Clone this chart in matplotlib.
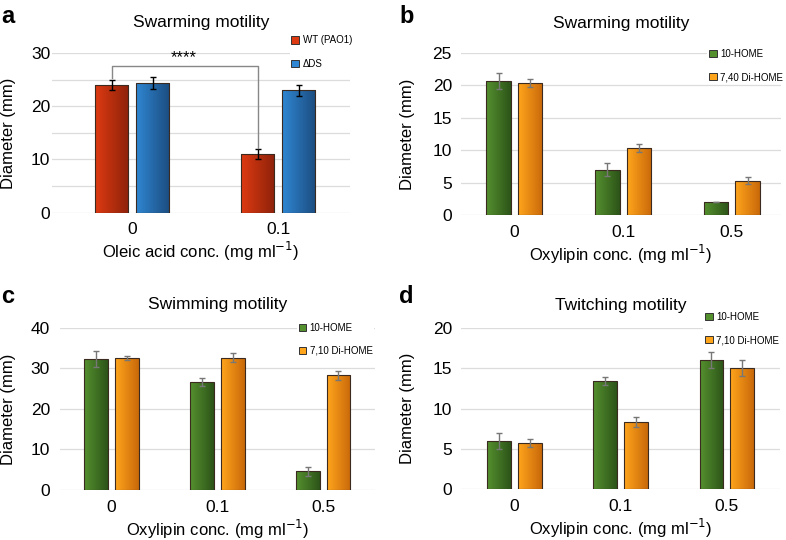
import numpy as np
import matplotlib
matplotlib.use("Agg")
import matplotlib.pyplot as plt
from matplotlib.colors import LinearSegmentedColormap
from matplotlib.patches import Patch

plt.rcParams['font.family'] = ['Liberation Sans', 'DejaVu Sans']

# ---- data ----
cats_a = ["0", "0.1"]
wt_a = [24.0, 11.0]
wt_a_err = [1.0, 1.0]
ds_a = [24.4, 23.0]
ds_a_err = [1.1, 1.0]

cats_bcd = ["0", "0.1", "0.5"]
home_b = [20.7, 7.0, 2.0]
home_b_err = [1.2, 1.0, 0.0]
dihome_b = [20.3, 10.3, 5.3]
dihome_b_err = [0.6, 0.6, 0.6]

home_c = [32.3, 26.7, 4.6]
home_c_err = [2.0, 1.0, 1.1]
dihome_c = [32.7, 32.7, 28.3]
dihome_c_err = [0.5, 1.2, 1.1]

home_d = [6.0, 13.4, 16.0]
home_d_err = [1.0, 0.5, 1.0]
dihome_d = [5.7, 8.3, 15.0]
dihome_d_err = [0.5, 0.6, 1.0]

RED = ("#dd3a12", "#8e220a")
BLUE = ("#2f86d2", "#1c4d80")
GREEN = ("#55902f", "#2c5418")
ORANGE = ("#ffa51c", "#c9690a")

fig = plt.figure(figsize=(7.86, 5.40), dpi=100)


def grad_bars(ax, x, h, w, cols, err, ecolor):
    bars = ax.bar(x, h, w, color=cols[0], edgecolor="none", zorder=2)
    cmap = LinearSegmentedColormap.from_list("g", [cols[0], cols[1]])
    grad = np.linspace(0, 1, 64).reshape(1, -1)
    for b in bars:
        x0, y0 = b.get_x(), b.get_y()
        im = ax.imshow(grad, cmap=cmap, aspect="auto", zorder=2.1,
                       extent=(x0, x0 + b.get_width(), y0, y0 + b.get_height()),
                       interpolation="bilinear")
        im.set_clip_path(b)
    ax.bar(x, h, w, facecolor="none", edgecolor="#3a2a20", linewidth=0.8, zorder=2.2)
    ax.errorbar(x, h, yerr=err, fmt="none", ecolor=ecolor, elinewidth=1.0,
                capsize=2.5, capthick=1.0, zorder=3)
    return bars


def style(ax, cats, ylim, yticks, grid, xlabel, title, xlim, tpad, ypad, ylx):
    ax.set_xlim(*xlim)
    ax.set_ylim(*ylim)
    ax.set_yticks(yticks)
    ax.set_xticks(range(len(cats)))
    ax.set_xticklabels(cats)
    ax.set_yticks(grid, minor=True)
    ax.grid(axis="y", which="both", color="#dcdcdc", linewidth=0.9, zorder=0)
    ax.set_axisbelow(True)
    for s in ax.spines.values():
        s.set_visible(False)
    ax.tick_params(axis="both", which="both", length=0, labelsize=12.5)
    ax.tick_params(axis="x", pad=7)
    ax.tick_params(axis="y", pad=ypad)
    ax.set_ylabel("Diameter (mm)", fontsize=12)
    ax.yaxis.set_label_coords(ylx, 0.5)
    ax.set_xlabel(xlabel, fontsize=12, labelpad=2)
    ax.set_title(title, fontsize=12.5, pad=tpad)


def legend(ax, labels, cols, anchor):
    handles = [Patch(facecolor=c[0], edgecolor="#333333", linewidth=0.7) for c in cols]
    lg = ax.legend(handles, labels, loc="upper left", bbox_to_anchor=anchor,
                   bbox_transform=fig.transFigure, frameon=True, fontsize=7,
                   handlelength=0.8, handleheight=0.8, handletextpad=0.35,
                   labelspacing=1.35, borderpad=0.15, borderaxespad=0)
    lg.get_frame().set_facecolor("white")
    lg.get_frame().set_edgecolor("none")
    lg.get_frame().set_alpha(1)
    lg.set_zorder(5)


# ---- panel a ----
axa = fig.add_axes([0.066, 0.606, 0.379, 0.296])
xa = np.arange(len(cats_a))
wa = 0.226
grad_bars(axa, xa - 0.14, wt_a, wa, RED, wt_a_err, "black")
grad_bars(axa, xa + 0.14, ds_a, wa, BLUE, ds_a_err, "black")
style(axa, cats_a, (0, 30), [0, 10, 20, 30], [5, 15, 25],
      "Oleic acid conc. (mg ml$^{-1}$)", "Swarming motility", (-0.55, 1.49),
      19, 1.0, -0.12)
axa.plot([xa[0] - 0.14, xa[0] - 0.14, xa[1] - 0.14, xa[1] - 0.14],
         [wt_a[0] + wt_a_err[0] + 0.3, 27.6, 27.6, wt_a[1] + wt_a_err[1] + 0.2],
         color="#888888", linewidth=1.0, zorder=4)
axa.text(0.35, 27.7, "****", ha="center", va="bottom", fontsize=12)
legend(axa, ["WT (PAO1)", "ΔDS"], [RED, BLUE], (0.369, 0.937))

# ---- panel b ----
axb = fig.add_axes([0.5865, 0.602, 0.407, 0.300])
xb = np.arange(len(cats_bcd))
wb = 0.225
grad_bars(axb, xb - 0.145, home_b, wb, GREEN, home_b_err, "#777777")
grad_bars(axb, xb + 0.145, dihome_b, wb, ORANGE, dihome_b_err, "#777777")
style(axb, cats_bcd, (0, 25), [0, 5, 10, 15, 20, 25], [],
      "Oxylipin conc. (mg ml$^{-1}$)", "Swarming motility", (-0.49, 2.45),
      18, 6.5, -0.144)
legend(axb, ["10-HOME", "7,40 Di-HOME"], [GREEN, ORANGE], (0.9, 0.912))

# ---- panel c ----
axc = fig.add_axes([0.076, 0.0926, 0.401, 0.300])
grad_bars(axc, xb - 0.145, home_c, wb, GREEN, home_c_err, "#777777")
grad_bars(axc, xb + 0.145, dihome_c, wb, ORANGE, dihome_c_err, "#777777")
style(axc, cats_bcd, (0, 40), [0, 10, 20, 30, 40], [],
      "Oxylipin conc. (mg ml$^{-1}$)", "Swimming motility", (-0.49, 2.49),
      14, 7.0, -0.14)
legend(axc, ["10-HOME", "7,10 Di-HOME"], [GREEN, ORANGE], (0.378, 0.405))

# ---- panel d ----
axd = fig.add_axes([0.5865, 0.0944, 0.406, 0.298])
grad_bars(axd, xb - 0.145, home_d, wb, GREEN, home_d_err, "#777777")
grad_bars(axd, xb + 0.145, dihome_d, wb, ORANGE, dihome_d_err, "#777777")
style(axd, cats_bcd, (0, 20), [0, 5, 10, 15, 20], [],
      "Oxylipin conc. (mg ml$^{-1}$)", "Twitching motility", (-0.5, 2.5),
      13, 6.5, -0.144)
legend(axd, ["10-HOME", "7,10 Di-HOME"], [GREEN, ORANGE], (0.895, 0.425))

# panel letters
for lbl, x, y in [("a", 0.002, 0.99), ("b", 0.508, 0.99),
                  ("c", 0.002, 0.473), ("d", 0.508, 0.473)]:
    fig.text(x, y, lbl, fontsize=17, fontweight="bold", va="top", ha="left")

fig.savefig("out.png", dpi=100)
